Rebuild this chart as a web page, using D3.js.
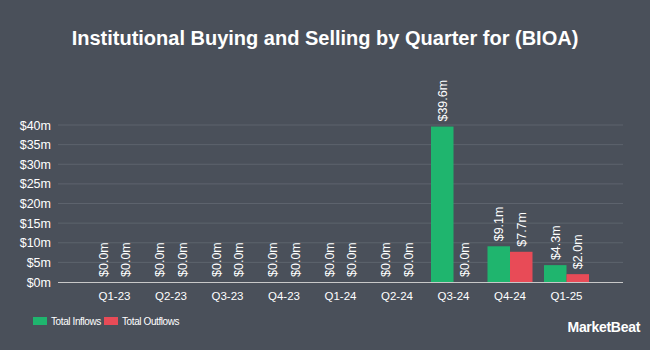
<!DOCTYPE html>
<html>
<head>
<meta charset="utf-8">
<script src="https://cdn.jsdelivr.net/npm/d3@7"></script>
<style>
  body { margin: 0; background: #4a505a; }
  svg { display: block; font-family: Arial, "Liberation Sans", sans-serif; }
</style>
</head>
<body>
<div id="chart"></div>
<script>
// chart data
var quarters = ["Q1-23", "Q2-23", "Q3-23", "Q4-23", "Q1-24", "Q2-24", "Q3-24", "Q4-24", "Q1-25"];
var inflows = [0, 0, 0, 0, 0, 0, 39.6, 9.1, 4.3];
var outflows = [0, 0, 0, 0, 0, 0, 0, 7.7, 2.0];
var yTicks = [0, 5, 10, 15, 20, 25, 30, 35, 40];

var w = 650, h = 350;
var margin = { top: 125, right: 27, bottom: 68, left: 58 };
var plotW = w - margin.left - margin.right;
var plotH = h - margin.top - margin.bottom;
var green = "#1fb56e", red = "#e84b57";

var svg = d3.select("#chart").append("svg")
    .attr("width", w)
    .attr("height", h);

svg.append("rect").attr("width", w).attr("height", h).attr("fill", "#4a505a");

// title
svg.append("text")
    .attr("x", w / 2)
    .attr("y", 45)
    .attr("text-anchor", "middle")
    .attr("font-size", "20px")
    .attr("font-weight", "bold")
    .attr("fill", "#ffffff")
    .text("Institutional Buying and Selling by Quarter for (BIOA)");

var g = svg.append("g")
    .attr("transform", "translate(" + margin.left + "," + margin.top + ")");

var xScale = d3.scaleBand()
    .domain(quarters)
    .range([0, plotW])
    .paddingInner(0)
    .paddingOuter(0.5);

var yScale = d3.scaleLinear()
    .domain([0, 40])
    .range([plotH, 0]);

// gridlines
g.selectAll(".grid")
    .data(yTicks.slice(1))
    .enter()
    .append("line")
    .attr("x1", 0)
    .attr("x2", plotW)
    .attr("y1", function(d) { return yScale(d); })
    .attr("y2", function(d) { return yScale(d); })
    .attr("stroke", "#5d636d")
    .attr("stroke-width", 1);

// y axis
var yAxis = d3.axisLeft(yScale)
    .tickValues(yTicks)
    .tickSize(0)
    .tickPadding(7)
    .tickFormat(function(d) { return "$" + d + "m"; });
var yg = g.append("g").call(yAxis);
yg.select(".domain").remove();
yg.selectAll("text").attr("fill", "#ffffff").attr("font-size", "12.5px");

// x axis
var xAxis = d3.axisBottom(xScale).tickSize(0).tickPadding(10);
var xg = g.append("g")
    .attr("transform", "translate(0," + plotH + ")")
    .call(xAxis);
xg.select(".domain").remove();
xg.selectAll("text").attr("fill", "#ffffff").attr("font-size", "11.5px");

var barW = 22.5;
var series = [
    { values: inflows, color: green, offset: -barW },
    { values: outflows, color: red, offset: 0 }
];

series.forEach(function(s) {
    var data = quarters.map(function(q, i) { return { q: q, v: s.values[i] }; });

    g.selectAll(null)
        .data(data)
        .enter()
        .append("rect")
        .attr("x", function(d) { return xScale(d.q) + xScale.bandwidth() / 2 + s.offset; })
        .attr("y", function(d) { return yScale(d.v); })
        .attr("width", barW)
        .attr("height", function(d) { return plotH - yScale(d.v); })
        .attr("fill", s.color);

    // rotated value labels
    g.selectAll(null)
        .data(data)
        .enter()
        .append("text")
        .attr("transform", function(d) {
            var x = xScale(d.q) + xScale.bandwidth() / 2 + s.offset + barW / 2 + 4.5;
            var y = yScale(d.v) - 5;
            return "translate(" + x + "," + y + ") rotate(-90)";
        })
        .attr("font-size", "12.5px")
        .attr("fill", "#ffffff")
        .text(function(d) { return "$" + d.v.toFixed(1) + "m"; });
});

// baseline
g.append("line")
    .attr("x1", 0)
    .attr("x2", plotW)
    .attr("y1", plotH + 0.5)
    .attr("y2", plotH + 0.5)
    .attr("stroke", "#c8c8c8")
    .attr("stroke-width", 1);

// legend
var legend = [
    { label: "Total Inflows", color: green, x: 33 },
    { label: "Total Outflows", color: red, x: 104 }
];
var lg = svg.selectAll(".legend")
    .data(legend)
    .enter()
    .append("g")
    .attr("transform", function(d) { return "translate(" + d.x + ",317)"; });
lg.append("rect").attr("width", 14).attr("height", 8).attr("fill", function(d) { return d.color; });
lg.append("text")
    .attr("x", 18)
    .attr("y", 8)
    .attr("font-size", "10px")
    .attr("letter-spacing", "-0.4px")
    .attr("fill", "#ffffff")
    .text(function(d) { return d.label; });

// logo text
svg.append("text")
    .attr("x", 640)
    .attr("y", 332)
    .attr("text-anchor", "end")
    .attr("font-size", "14px")
    .attr("font-weight", "bold")
    .attr("letter-spacing", "-0.3px")
    .attr("fill", "#ffffff")
    .text("MarketBeat");
</script>
</body>
</html>
